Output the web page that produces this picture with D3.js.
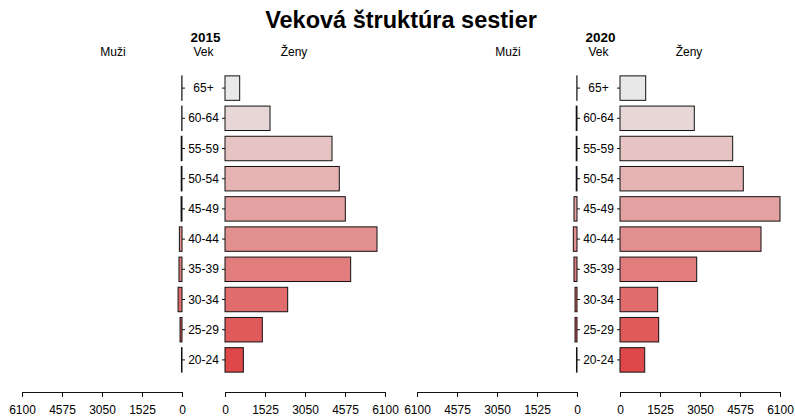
<!DOCTYPE html>
<html>
<head>
<meta charset="utf-8">
<script src="https://cdn.jsdelivr.net/npm/d3@7"></script>
<style>
  body { margin: 0; background: #fff; }
  svg { font-family: "Liberation Sans", Arial, sans-serif; }
</style>
</head>
<body>
<svg id="chart" width="795" height="418"></svg>
<script>
// age groups, top to bottom
const ages = ["65+", "60-64", "55-59", "50-54", "45-49", "40-44", "35-39", "30-34", "25-29", "20-24"];
const years = ["2015", "2020"];

const men2015 = [8, 10, 30, 30, 35, 100, 115, 150, 75, 20];
const women2015 = [560, 1716, 4080, 4358, 4587, 5795, 4791, 2390, 1423, 699];
const men2020 = [8, 30, 30, 30, 115, 140, 115, 75, 75, 20];
const women2020 = [980, 2833, 4296, 4701, 6100, 5376, 2924, 1437, 1475, 942];

const ticks = [0, 1525, 3050, 4575, 6100];
const title = "Veková štruktúra sestier";

const svg = d3.select("#chart");

svg.append("text")
    .attr("x", 401).attr("y", 28)
    .attr("text-anchor", "middle")
    .attr("font-size", 23.5).attr("font-weight", "bold")
    .text(title);

// light grey at the top (65+), red at the bottom (20-24)
const color = d3.scaleLinear()
    .domain([0, ages.length - 1])
    .range(["#e8e8e8", "#de4848"])
    .interpolate(d3.interpolateRgb);

const y = d3.scaleBand()
    .domain(ages)
    .range([73, 375])
    .paddingInner(0.19)
    .paddingOuter(0.095);

function panel(x0, year, men, women) {
    // x0 = left edge of male axis
    let g = svg.append("g");
    let mid0 = x0 + 160, fem0 = x0 + 203;
    let xm = d3.scaleLinear().domain([6100, 0]).range([x0, mid0]);
    let xf = d3.scaleLinear().domain([0, 6100]).range([fem0, fem0 + 160]);
    let center = (mid0 + fem0) / 2;

    g.append("text").attr("x", center + 2).attr("y", 42)
        .attr("text-anchor", "middle").attr("font-size", 13.5).attr("font-weight", "bold")
        .text(year);
    g.append("text").attr("x", center).attr("y", 56)
        .attr("text-anchor", "middle").attr("font-size", 12).text("Vek");
    g.append("text").attr("x", x0 + 91).attr("y", 56)
        .attr("text-anchor", "middle").attr("font-size", 12).text("Muži");
    g.append("text").attr("x", fem0 + 69).attr("y", 56)
        .attr("text-anchor", "middle").attr("font-size", 12).text("Ženy");

    g.selectAll(".m").data(ages).enter().append("rect")
        .attr("x", (d, i) => xm(men[i]))
        .attr("y", d => y(d))
        .attr("width", (d, i) => mid0 - xm(men[i]))
        .attr("height", y.bandwidth())
        .attr("fill", (d, i) => color(i))
        .attr("stroke", "#111").attr("stroke-width", 1);

    g.selectAll(".f").data(ages).enter().append("rect")
        .attr("x", fem0)
        .attr("y", d => y(d))
        .attr("width", (d, i) => xf(women[i]) - fem0)
        .attr("height", y.bandwidth())
        .attr("fill", (d, i) => color(i))
        .attr("stroke", "#111").attr("stroke-width", 1);

    // age labels with little ticks
    ages.forEach(a => {
        let cy = y(a) + y.bandwidth() / 2;
        g.append("line").attr("x1", mid0).attr("x2", mid0 + 3)
            .attr("y1", cy).attr("y2", cy).attr("stroke", "#111");
        g.append("line").attr("x1", fem0 - 3).attr("x2", fem0)
            .attr("y1", cy).attr("y2", cy).attr("stroke", "#111");
        g.append("text").attr("x", center).attr("y", cy + 4)
            .attr("text-anchor", "middle").attr("font-size", 12).text(a);
    });

    let fmt = d3.format("d");
    let axM = g.append("g").attr("transform", "translate(0,392)")
        .call(d3.axisBottom(xm).tickValues(ticks).tickFormat(fmt).tickSize(5).tickPadding(8));
    let axF = g.append("g").attr("transform", "translate(0,392)")
        .call(d3.axisBottom(xf).tickValues(ticks).tickFormat(fmt).tickSize(5).tickPadding(8));
    [axM, axF].forEach(ax => {
        ax.selectAll("text").attr("font-size", 12).attr("fill", "#000")
            .attr("font-family", "Liberation Sans, Arial, sans-serif");
        ax.select(".domain").attr("stroke", "#111").attr("d", function() {
            return d3.select(this).attr("d").replace(/V6/g, "V0").replace(/V5/g, "V0");
        });
        ax.selectAll("line").attr("stroke", "#111");
    });
}

panel(22, years[0], men2015, women2015);
panel(417, years[1], men2020, women2020);
</script>
</body>
</html>
